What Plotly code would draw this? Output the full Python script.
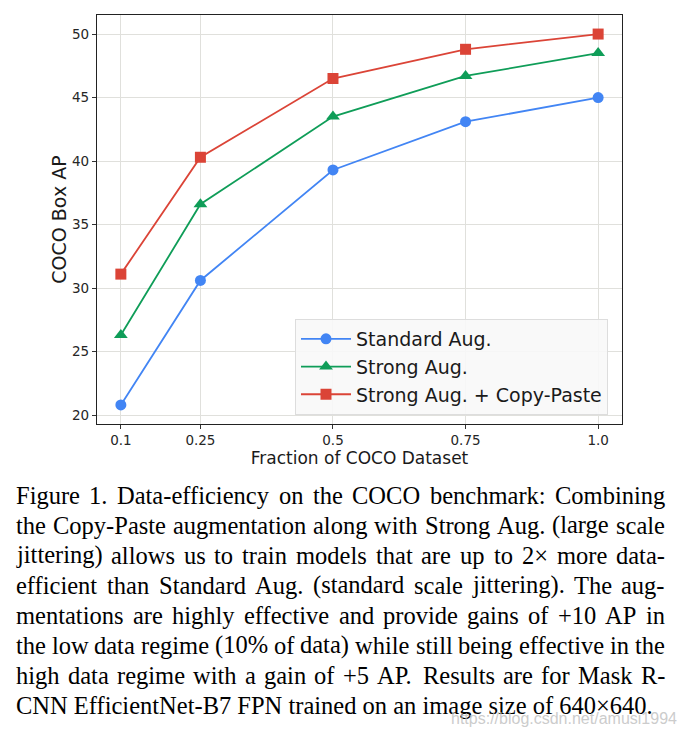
import plotly.graph_objects as go

# ---- data ----
fractions = [0.1, 0.25, 0.5, 0.75, 1.0]
tick_labels = ["0.1", "0.25", "0.5", "0.75", "1.0"]
standard_aug = [20.8, 30.6, 39.3, 43.1, 45.0]
strong_aug = [26.3, 36.6, 43.5, 46.7, 48.5]
strong_copy_paste = [31.1, 40.3, 46.5, 48.8, 50.0]
y_ticks = [20, 25, 30, 35, 40, 45, 50]

series_names = ["Standard Aug.", "Strong Aug.", "Strong Aug. + Copy-Paste"]
caption_lines = [
    "Figure 1. Data-efficiency on the COCO benchmark: Combining",
    "the Copy-Paste augmentation along with Strong Aug. (large scale",
    "jittering) allows us to train models that are up to 2× more data-",
    "efficient than Standard Aug. (standard scale jittering). The aug-",
    "mentations are highly effective and provide gains of +10 AP in",
    "the low data regime (10% of data) while still being effective in the",
    "high data regime with a gain of +5 AP. Results are for Mask R-",
    "CNN EfficientNet-B7 FPN trained on an image size of 640×640.",
]
watermark = "https://blog.csdn.net/amusi1994"

# ---- layout constants ----
W, H = 687, 734
L, R, T, B = 97, 65, 15, 310
plot_w = W - L - R
plot_h = H - T - B


def px_x(px):
    return (px - L) / plot_w


def px_y(py):
    return (H - B - py) / plot_h


# approximate Times glyph advance widths (per 1000 em) for justification
_tw = {" ": 250, "(": 333, ")": 333, "%": 833, "+": 564, ",": 250, "-": 333, ".": 250,
       ":": 278, "×": 564}
for ch in "0123456789":
    _tw[ch] = 500
_tw.update(dict(zip("ABCDEFGHIJKLMNOPQRSTUVWXYZ",
                    [722, 667, 667, 722, 611, 556, 722, 722, 333, 389, 722, 611, 889, 722, 722, 556, 722, 667, 556,
                     611, 722, 722, 944, 722, 722, 611])))
_tw.update(dict(zip("abcdefghijklmnopqrstuvwxyz",
                    [444, 500, 444, 500, 444, 333, 500, 500, 278, 278, 500, 278, 778, 500, 500, 500, 500, 333, 389,
                     278, 500, 500, 722, 500, 500, 444])))


def text_w(s, size):
    return sum(_tw.get(c, 500) for c in s) * size / 1000.0


colors = ["#4285F4", "#0F9D58", "#DB4437"]
symbols = ["circle", "triangle-up", "square"]
sizes = [11, 12, 11]

fig = go.Figure()
for name, vals, c, s, sz in zip(series_names, [standard_aug, strong_aug, strong_copy_paste], colors, symbols, sizes):
    fig.add_trace(go.Scatter(
        x=fractions, y=vals, name=name, mode="lines+markers",
        line=dict(color=c, width=1.8),
        marker=dict(symbol=s, size=sz, color=c),
    ))

axis_common = dict(
    showline=True, linecolor="#222222", linewidth=1.3, mirror=True,
    showgrid=True, gridcolor="#e0e0dc", gridwidth=1,
    ticks="outside", ticklen=4, tickcolor="#333333", tickwidth=1,
    tickfont=dict(family="DejaVu Sans", size=13.5, color="#262626"),
    zeroline=False,
)

fig.update_xaxes(
    range=[0.055, 1.045], tickvals=fractions, ticktext=tick_labels,
    title=dict(text="Fraction of COCO Dataset", font=dict(family="DejaVu Sans", size=17, color="#1a1a1a"), standoff=2),
    **axis_common,
)
fig.update_yaxes(
    range=[19.3, 51.5], tickvals=y_ticks,
    title=dict(text="COCO Box AP", font=dict(family="DejaVu Sans", size=19, color="#1a1a1a"), standoff=0),
    **axis_common,
)

annotations = []
cap_size = 24.5
cap_left, cap_right = 14, 663
line_y0, line_dy = 495, 30
cap_font = dict(family="Liberation Serif", size=cap_size, color="#000000")
for i, txt in enumerate(caption_lines):
    y = px_y(line_y0 + i * line_dy)
    words = txt.split(" ")
    if i == len(caption_lines) - 1 or len(words) < 2:
        annotations.append(dict(
            xref="paper", yref="paper", x=px_x(cap_left), y=y,
            xanchor="left", yanchor="middle", showarrow=False, align="left",
            text=txt, font=cap_font,
        ))
        continue
    widths = [text_w(w, cap_size) for w in words]
    gap = (cap_right - cap_left - sum(widths)) / (len(words) - 1)
    xpos = cap_left
    for w, wd in zip(words, widths):
        annotations.append(dict(
            xref="paper", yref="paper", x=px_x(xpos), y=y,
            xanchor="left", yanchor="middle", showarrow=False, align="left",
            text=w, font=cap_font,
        ))
        xpos += wd + gap

annotations.append(dict(
    xref="paper", yref="paper", x=px_x(679), y=px_y(718),
    xanchor="right", yanchor="middle", showarrow=False,
    text=watermark, font=dict(family="Liberation Sans", size=16, color="rgba(190,190,190,0.8)"),
))

fig.update_layout(
    width=W, height=H,
    margin=dict(l=L, r=R, t=T, b=B, pad=0),
    paper_bgcolor="white", plot_bgcolor="white",
    showlegend=True,
    legend=dict(
        x=px_x(295), y=px_y(415), xanchor="left", yanchor="bottom",
        bgcolor="rgba(248,248,248,0.9)", bordercolor="#dddddd", borderwidth=1,
        font=dict(family="DejaVu Sans", size=19, color="#1a1a1a"),
        itemwidth=50,
    ),
    annotations=annotations,
)

fig.write_html("out.html")
